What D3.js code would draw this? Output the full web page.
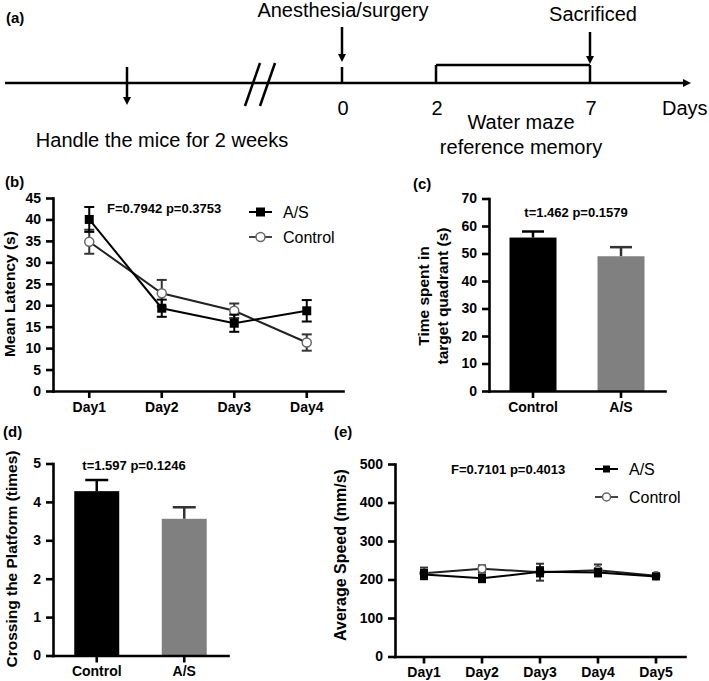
<!DOCTYPE html>
<html><head><meta charset="utf-8">
<script src="https://cdn.jsdelivr.net/npm/d3@7"></script>
<style>body{margin:0;background:#fff}</style>
</head><body>
<svg id="c" width="709" height="681"></svg>
<script>
// ---------- data ----------
const latencyDays = ["Day1", "Day2", "Day3", "Day4"];
const latencyAS = [40.0, 19.3, 15.8, 18.7];
const latencyASErr = [2.9, 2.0, 2.0, 2.5];
const latencyCtrl = [34.8, 22.8, 18.7, 11.3];
const latencyCtrlErr = [2.8, 3.1, 1.7, 1.9];
const latencyTicks = [0, 5, 10, 15, 20, 25, 30, 35, 40, 45];

const groups = ["Control", "A/S"];
const timeInTarget = [55.8, 49.0];
const timeInTargetErr = [2.2, 3.3];
const timeTicks = [0, 10, 20, 30, 40, 50, 60, 70];

const crossings = [4.28, 3.56];
const crossingsErr = [0.29, 0.30];
const crossTicks = [0, 1, 2, 3, 4, 5];

const speedDays = ["Day1", "Day2", "Day3", "Day4", "Day5"];
const speedAS = [213, 203, 220, 218, 208];
const speedASErr = [12, 10, 12, 10, 6];
const speedCtrl = [216, 228, 219, 224, 210];
const speedCtrlErr = [15, 9, 22, 15, 5];
const speedTicks = [0, 100, 200, 300, 400, 500];

const timelineDays = [0, 2, 7];
const timelineLabels = ["0", "2", "7"];

// ---------- helpers ----------
const svg = d3.select("#c");
const FONT = "'Liberation Sans', Arial, Helvetica, sans-serif";

function txt(x, y, s, o = {}) {
  const t = svg.append("text").attr("x", x).attr("y", y).text(s)
    .attr("font-family", FONT).attr("font-size", o.size || 14)
    .attr("font-weight", o.bold ? "bold" : "normal")
    .attr("text-anchor", o.anchor || "start").attr("fill", o.fill || "#000");
  if (o.baseline) t.attr("dominant-baseline", o.baseline);
  if (o.rotate) t.attr("transform", `rotate(-90,${x},${y})`);
  return t;
}

function styleAxis(sel) {
  sel.select(".domain").attr("stroke", "#000").attr("stroke-width", 2.6).attr("stroke-linecap", "square");
  sel.selectAll(".tick line").attr("stroke", "#000").attr("stroke-width", 2.6);
  sel.selectAll(".tick text").attr("font-family", FONT).attr("font-weight", "bold")
    .attr("font-size", 14).attr("fill", "#000");
}

function axes(x, y, ticks) {
  const [y0] = y.range();
  const [x0] = x.range();
  svg.append("g").attr("transform", `translate(0,${y0})`)
    .call(d3.axisBottom(x).tickSize(7).tickSizeOuter(0).tickPadding(4)).call(styleAxis);
  svg.append("g").attr("transform", `translate(${x0},0)`)
    .call(d3.axisLeft(y).tickValues(ticks).tickFormat(d3.format("d"))
      .tickSize(7).tickSizeOuter(0).tickPadding(5)).call(styleAxis);
}

function lineSeries(x, y, cats, vals, errs, o) {
  const cx = d => x(d) + x.bandwidth() / 2;
  const pts = cats.map((c, i) => ({ c, v: vals[i], e: errs[i] }));
  const g = svg.append("g");
  g.append("path").datum(pts)
    .attr("d", d3.line().x(d => cx(d.c)).y(d => y(d.v)))
    .attr("fill", "none").attr("stroke", o.line).attr("stroke-width", o.lw);
  const eb = g.selectAll(".eb").data(pts).enter().append("g");
  eb.append("line").attr("x1", d => cx(d.c)).attr("x2", d => cx(d.c))
    .attr("y1", d => y(d.v - d.e)).attr("y2", d => y(d.v + d.e))
    .attr("stroke", o.err).attr("stroke-width", o.elw);
  [-1, 1].forEach(s => {
    eb.append("line").attr("x1", d => cx(d.c) - o.cap).attr("x2", d => cx(d.c) + o.cap)
      .attr("y1", d => y(d.v + s * d.e)).attr("y2", d => y(d.v + s * d.e))
      .attr("stroke", o.err).attr("stroke-width", o.elw);
  });
  if (o.shape === "square") {
    g.selectAll(".m").data(pts).enter().append("rect")
      .attr("x", d => cx(d.c) - o.ms / 2).attr("y", d => y(d.v) - o.ms / 2)
      .attr("width", o.ms).attr("height", o.ms).attr("fill", "#000");
  } else {
    g.selectAll(".m").data(pts).enter().append("circle")
      .attr("cx", d => cx(d.c)).attr("cy", d => y(d.v)).attr("r", o.ms / 2)
      .attr("fill", "#fff").attr("stroke", "#666").attr("stroke-width", 1.5);
  }
}

function legend(x, y, label, shape, ms, lineColor) {
  svg.append("line").attr("x1", x).attr("x2", x + 23).attr("y1", y).attr("y2", y)
    .attr("stroke", lineColor).attr("stroke-width", 2);
  if (shape === "square") {
    svg.append("rect").attr("x", x + 11.5 - ms / 2).attr("y", y - ms / 2)
      .attr("width", ms).attr("height", ms).attr("fill", "#000");
  } else {
    svg.append("circle").attr("cx", x + 11.5).attr("cy", y).attr("r", ms / 2)
      .attr("fill", "#fff").attr("stroke", "#666").attr("stroke-width", 1.5);
  }
  txt(x + 34, y, label, { size: 16, baseline: "central" });
}

function barChart(x, y, vals, errs, colors, errColors, capW) {
  const g = svg.append("g");
  groups.forEach((gr, i) => {
    const cx = x(gr) + x.bandwidth() / 2;
    g.append("line").attr("x1", cx).attr("x2", cx).attr("y1", y(vals[i])).attr("y2", y(vals[i] + errs[i]))
      .attr("stroke", errColors[i]).attr("stroke-width", 2.5);
    g.append("line").attr("x1", cx - capW / 2).attr("x2", cx + capW / 2)
      .attr("y1", y(vals[i] + errs[i])).attr("y2", y(vals[i] + errs[i]))
      .attr("stroke", errColors[i]).attr("stroke-width", 2.5);
    g.append("rect").attr("x", x(gr)).attr("y", y(vals[i]))
      .attr("width", x.bandwidth()).attr("height", y(0) - y(vals[i]))
      .attr("fill", colors[i]);
  });
}

// ---------- (a) timeline ----------
(function () {
  const tx = d3.scaleLinear().domain(timelineDays).range([342, 436, 590]);
  const LY = 83;
  const st = { stroke: "#000", "stroke-width": 2.5 };
  const ln = (x1, y1, x2, y2) => {
    const l = svg.append("line").attr("x1", x1).attr("y1", y1).attr("x2", x2).attr("y2", y2);
    Object.entries(st).forEach(([k, v]) => l.attr(k, v));
    return l;
  };
  const head = (x, yTip, dir) => {
    if (dir === "down") svg.append("path").attr("d", `M${x - 4},${yTip - 8}L${x + 4},${yTip - 8}L${x},${yTip}Z`).attr("fill", "#000");
    else svg.append("path").attr("d", `M${x - 8},${yTip - 4}L${x - 8},${yTip + 4}L${x},${yTip}Z`).attr("fill", "#000");
  };
  ln(5, LY, 684, LY); head(691, LY, "right");
  // break mark
  ln(245, 106, 260, 63); ln(260, 106, 275, 63);
  // handle arrow
  ln(127, 67, 127, 98); head(127, 105, "down");
  // anesthesia arrow + tick
  ln(tx(0), 27, tx(0), 55); head(tx(0), 62, "down");
  ln(tx(0), 67, tx(0), LY);
  // water maze bracket
  ln(tx(2), 65, tx(7), 65);
  ln(tx(2), 65, tx(2), LY); ln(tx(7), 65, tx(7), LY);
  ln(tx(7), 32, tx(7), 57); head(tx(7), 64, "down");
  timelineDays.forEach((d, i) => txt(tx(d) + 1, 115, timelineLabels[i], { size: 20, anchor: "middle" }));
  txt(662, 115, "Days", { size: 20 });
  txt(343, 17, "Anesthesia/surgery", { size: 20, anchor: "middle" });
  txt(593, 21, "Sacrificed", { size: 20, anchor: "middle" });
  txt(521, 129, "Water maze", { size: 20, anchor: "middle" });
  txt(521, 154, "reference memory", { size: 20, anchor: "middle" });
  txt(162, 147, "Handle the mice for 2 weeks", { size: 20, anchor: "middle" });
  txt(6, 23, "(a)", { size: 15, bold: true });
})();

// ---------- (b) latency ----------
(function () {
  const x = d3.scaleBand().domain(latencyDays).range([53, 343]);
  const y = d3.scaleLinear().domain([0, 45]).range([391, 198]);
  axes(x, y, latencyTicks);
  lineSeries(x, y, latencyDays, latencyCtrl, latencyCtrlErr,
    { line: "#222", lw: 2, err: "#333", elw: 2, cap: 5, shape: "circle", ms: 9 });
  lineSeries(x, y, latencyDays, latencyAS, latencyASErr,
    { line: "#000", lw: 2, err: "#000", elw: 2, cap: 5, shape: "square", ms: 9 });
  legend(249, 212, "A/S", "square", 9, "#000");
  legend(249, 237, "Control", "circle", 9, "#444");
  txt(107, 208, "F=0.7942 p=0.3753", { size: 13, bold: true, baseline: "central" });
  txt(5, 187, "(b)", { size: 15, bold: true });
  txt(9, 294, "Mean Latency (s)", { size: 15.5, bold: true, anchor: "middle", baseline: "central", rotate: true });
})();

// ---------- (c) time in target quadrant ----------
(function () {
  const x = d3.scaleBand().domain(groups).range([489, 665]).paddingInner(0.466).paddingOuter(0.233);
  const y = d3.scaleLinear().domain([0, 70]).range([391, 198.5]);
  barChart(x, y, timeInTarget, timeInTargetErr, ["#000", "#808080"], ["#000", "#333"], 22);
  axes(x, y, timeTicks);
  txt(576, 212, "t=1.462 p=0.1579", { size: 13, bold: true, anchor: "middle", baseline: "central" });
  txt(413, 189, "(c)", { size: 15, bold: true });
  txt(423, 296, "Time spent in", { size: 15.5, bold: true, anchor: "middle", baseline: "central", rotate: true });
  txt(442, 296, "target quadrant (s)", { size: 15.5, bold: true, anchor: "middle", baseline: "central", rotate: true });
})();

// ---------- (d) crossings ----------
(function () {
  const x = d3.scaleBand().domain(groups).range([53, 228]).paddingInner(0.486).paddingOuter(0.243);
  const y = d3.scaleLinear().domain([0, 5]).range([655.5, 463.5]);
  barChart(x, y, crossings, crossingsErr, ["#000", "#808080"], ["#000", "#333"], 23);
  axes(x, y, crossTicks);
  txt(134, 465, "t=1.597 p=0.1246", { size: 13, bold: true, anchor: "middle", baseline: "central" });
  txt(3, 437, "(d)", { size: 15, bold: true });
  txt(11, 559, "Crossing the Platform (times)", { size: 15.5, bold: true, anchor: "middle", baseline: "central", rotate: true });
})();

// ---------- (e) speed ----------
(function () {
  const x = d3.scaleBand().domain(speedDays).range([395, 685]);
  const y = d3.scaleLinear().domain([0, 500]).range([656.5, 464]);
  axes(x, y, speedTicks);
  lineSeries(x, y, speedDays, speedCtrl, speedCtrlErr,
    { line: "#222", lw: 2, err: "#333", elw: 2, cap: 4, shape: "circle", ms: 8 });
  lineSeries(x, y, speedDays, speedAS, speedASErr,
    { line: "#000", lw: 2, err: "#000", elw: 2, cap: 4, shape: "square", ms: 8 });
  legend(595, 469, "A/S", "square", 7, "#000");
  legend(595, 497, "Control", "circle", 8, "#444");
  txt(451, 469, "F=0.7101 p=0.4013", { size: 13, bold: true, baseline: "central" });
  txt(334, 437, "(e)", { size: 15, bold: true });
  txt(340, 555, "Average Speed (mm/s)", { size: 16, bold: true, anchor: "middle", baseline: "central", rotate: true });
})();
</script>
</body></html>
